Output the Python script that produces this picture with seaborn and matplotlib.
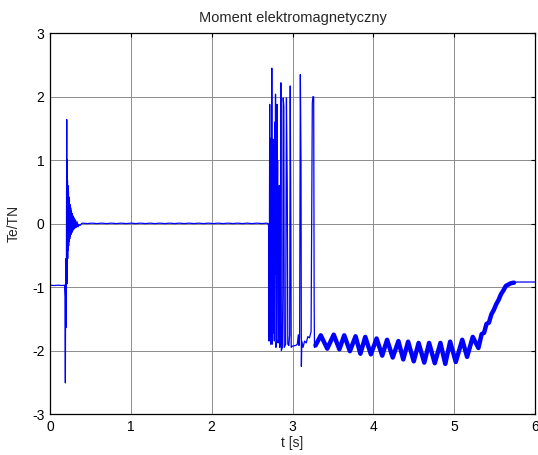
import matplotlib
matplotlib.use("Agg")
import matplotlib.pyplot as plt
import pandas as pd
import seaborn as sns

# Electromagnetic torque Te/TN versus time, one run split into phases.

# Before switching on: torque held near -1
start_t = [0.000, 0.050, 0.100, 0.150, 0.180]
start_te = [-0.970, -0.975, -0.970, -0.975, -0.970]

# Switching transient with a fast decaying oscillation
trans_t = [0.186, 0.190, 0.193, 0.196, 0.199, 0.202, 0.205, 0.207, 0.209, 0.211,
           0.213, 0.216, 0.219, 0.222, 0.225, 0.228, 0.231, 0.234, 0.237, 0.240,
           0.244, 0.248, 0.252, 0.256, 0.260, 0.265, 0.270, 0.275, 0.281, 0.287,
           0.293, 0.300, 0.308, 0.316, 0.325, 0.335, 0.345, 0.355, 0.370, 0.390]
trans_te = [-1.15, -2.51, -0.95, -1.64, -0.55, -1.35, 0.40, 1.64, -0.95, 1.01,
            -0.80, 0.68, -0.55, 0.60, -0.42, 0.50, -0.35, 0.42, -0.28, 0.36,
            -0.24, 0.30, -0.20, 0.25, -0.17, 0.20, -0.14, 0.16, -0.11, 0.12,
            -0.09, 0.09, -0.07, 0.06, -0.06, 0.03, -0.05, -0.01, -0.03, 0.00]

# Steady idle: torque close to zero with a very slight ripple
idle_t = [0.40, 0.46, 0.52, 0.58, 0.64, 0.70, 0.76, 0.82, 0.88, 0.94,
          1.00, 1.06, 1.12, 1.18, 1.24, 1.30, 1.36, 1.42, 1.48, 1.54,
          1.60, 1.66, 1.72, 1.78, 1.84, 1.90, 1.96, 2.02, 2.08, 2.14,
          2.20, 2.26, 2.32, 2.38, 2.44, 2.50, 2.56, 2.62, 2.68, 2.700]
idle_te = [0.008, 0.001, 0.008, 0.001, 0.008, 0.001, 0.008, 0.001, 0.008, 0.001,
           0.008, 0.001, 0.008, 0.001, 0.008, 0.001, 0.008, 0.001, 0.008, 0.001,
           0.008, 0.001, 0.008, 0.001, 0.008, 0.001, 0.008, 0.001, 0.008, 0.001,
           0.008, 0.001, 0.008, 0.001, 0.008, 0.001, 0.008, 0.001, 0.008, 0.000]

# Load change: burst of large torque swings
burst_t = [2.705, 2.710, 2.714, 2.718, 2.722, 2.727, 2.731, 2.737, 2.741, 2.744,
           2.748, 2.752, 2.756, 2.760, 2.765, 2.770, 2.775, 2.781, 2.786, 2.790,
           2.795, 2.803, 2.808, 2.812, 2.816, 2.822, 2.830, 2.836, 2.842, 2.848,
           2.856, 2.862, 2.875, 2.880, 2.885, 2.893, 2.898, 2.915, 2.925, 2.935,
           2.942, 2.955, 2.965, 2.972, 2.980, 2.984, 3.000, 3.040, 3.060, 3.072,
           3.080, 3.088, 3.097, 3.105, 3.110, 3.115, 3.130, 3.150, 3.170, 3.190,
           3.210, 3.230, 3.245, 3.252, 3.262, 3.268, 3.272, 3.285]
burst_te = [-0.05, -1.85, -0.60, 1.88, -1.70, 0.30, -1.90, 1.35, -0.20, 2.45,
            -1.90, 0.90, -1.20, 1.33, -1.72, 0.50, -1.85, 1.60, -0.80, 2.04,
            -1.95, -1.85, 1.88, 0.20, 1.00, -1.88, -1.80, 0.60, -1.95, -1.92,
            2.22, -2.00, -1.95, -1.10, 1.98, 1.85, -1.95, -1.90, 1.98, 0.60,
            -1.90, -1.92, -1.75, 2.17, -0.20, -1.95, -1.93, -1.92, -1.90, -1.75,
            -1.92, -1.80, 2.35, 1.00, -2.25, -1.85, -1.95, -1.85, -1.88, -1.78,
            -1.80, -1.70, 1.90, 2.00, 2.00, -1.22, -1.95, -1.90]

# Loaded operation: low-frequency swing around -1.9, then the ramp back to -0.92
load_t = [3.285, 3.350, 3.430, 3.510, 3.580, 3.640, 3.710, 3.780, 3.840, 3.900,
          3.970, 4.040, 4.110, 4.170, 4.240, 4.310, 4.370, 4.430, 4.500, 4.560,
          4.630, 4.690, 4.760, 4.830, 4.890, 4.950, 5.020, 5.100, 5.160, 5.230,
          5.300, 5.340, 5.370, 5.400, 5.430, 5.460, 5.490, 5.520, 5.550, 5.580,
          5.610, 5.640, 5.670, 5.700, 5.740]
load_te = [-1.92, -1.76, -1.97, -1.75, -1.98, -1.76, -2.01, -1.775, -2.05, -1.785,
           -2.06, -1.81, -2.08, -1.83, -2.11, -1.85, -2.14, -1.86, -2.17, -1.88,
           -2.19, -1.88, -2.20, -1.88, -2.21, -1.86, -2.18, -1.83, -2.10, -1.785,
           -1.96, -1.74, -1.72, -1.58, -1.56, -1.43, -1.36, -1.27, -1.20, -1.11,
           -1.05, -0.98, -0.96, -0.94, -0.93]

# Final steady state
end_t = [5.780, 6.000]
end_te = [-0.92, -0.92]

full = pd.DataFrame({
    "t": start_t + trans_t + idle_t + burst_t + load_t + end_t,
    "Te": start_te + trans_te + idle_te + burst_te + load_te + end_te,
})
ripple = pd.DataFrame({"t": load_t, "Te": load_te})

sns.set_style("white")
plt.rcParams["font.family"] = ["Liberation Sans", "DejaVu Sans"]
plt.rcParams["font.size"] = 10
plt.rcParams["axes.unicode_minus"] = False

fig = plt.figure(figsize=(5.38, 4.55), dpi=100)
ax = fig.add_axes([50 / 538, 1 - 414 / 455, 485 / 538, (414 - 33.3) / 455])

sns.lineplot(data=full, x="t", y="Te", ax=ax, estimator=None, sort=False,
             color="#0000ff", linewidth=0.9)
# thick stroke for the high-frequency ripple band under load
sns.lineplot(data=ripple, x="t", y="Te", ax=ax, estimator=None, sort=False,
             color="#0000ff", linewidth=3.2)

ax.set_xlim(0, 6)
ax.set_ylim(-3, 3)
ax.set_xticks(range(0, 7))
ax.set_yticks(range(-3, 4))
ax.grid(True, color="#8c8c8c", linewidth=0.7)
ax.set_axisbelow(True)
for side in ax.spines.values():
    side.set_color("black")
    side.set_linewidth(0.9)
ax.tick_params(direction="in", top=True, right=True, length=3, width=0.8,
               labelsize=10, colors="black", pad=4)

ax.set_title("Moment elektromagnetyczny", fontsize=10.5, pad=8)
ax.set_xlabel("t [s]", fontsize=10, labelpad=2)
ax.set_ylabel("Te/TN", fontsize=10, labelpad=8)

fig.savefig("out.png", dpi=100)
